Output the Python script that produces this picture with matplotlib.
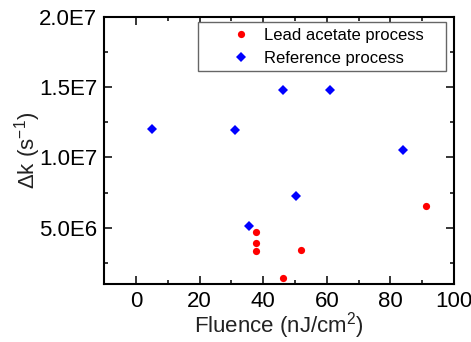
import matplotlib
matplotlib.use('Agg')
from matplotlib import pyplot as plt
from matplotlib.ticker import MultipleLocator, FuncFormatter

# data
lead_x = [37.8, 37.8, 37.8, 51.8, 46.3, 91.1]
lead_y = [4.67e6, 3.91e6, 3.36e6, 3.39e6, 1.44e6, 6.52e6]

ref_x = [5.1, 31.0, 46.1, 60.9, 84.0, 50.3, 35.6]
ref_y = [1.206e7, 1.199e7, 1.484e7, 1.479e7, 1.052e7, 7.25e6, 5.14e6]

x_ticks = [0, 20, 40, 60, 80, 100]
y_ticks = [5.0e6, 1.0e7, 1.5e7, 2.0e7]

plt.rcParams['font.family'] = ['Liberation Sans', 'DejaVu Sans']
plt.rcParams['mathtext.fontset'] = 'custom'
plt.rcParams['mathtext.rm'] = 'Liberation Sans'
plt.rcParams['mathtext.default'] = 'regular'

fig = plt.figure(figsize=(4.71, 3.42), dpi=100)
ax = fig.add_axes([0.221, 0.170, 0.743, 0.780])

ax.plot(lead_x, lead_y, 'o', color='#ff0000', markersize=5.2, markeredgewidth=0,
        label='Lead acetate process')
ax.plot(ref_x, ref_y, 'D', color='#0000ff', markersize=4.8, markeredgewidth=0,
        label='Reference process')

ax.set_xlim(-10, 100)
ax.set_ylim(1.0e6, 2.0e7)
ax.set_xticks(x_ticks)
ax.set_yticks(y_ticks)
ax.xaxis.set_minor_locator(MultipleLocator(10))
ax.yaxis.set_minor_locator(MultipleLocator(2.5e6))


def sci_fmt(v, pos):
    exp = len(str(int(v))) - 1
    return '%.1fE%d' % (v / 10 ** exp, exp)


ax.yaxis.set_major_formatter(FuncFormatter(sci_fmt))

ax.tick_params(which='both', direction='in', top=True, right=True,
               labelsize=16, colors='black', width=1.1)
ax.tick_params(which='major', length=6, pad=5)
ax.tick_params(which='minor', length=3)
for sp in ax.spines.values():
    sp.set_linewidth(1.5)

ax.set_xlabel('Fluence (nJ/cm$^{2}$)', fontsize=16, color='#222222', labelpad=-1)
ax.set_ylabel('Δk (s$^{-1}$)', fontsize=16, color='#222222', labelpad=-3)

leg = ax.legend(loc='upper left', bbox_to_anchor=(0.269, 0.798, 0.708, 0.183),
                mode='expand', fontsize=12, numpoints=1, handlelength=4.4,
                handletextpad=-0.8, labelspacing=0.45, borderpad=0.35,
                fancybox=False, framealpha=1, borderaxespad=0)
leg.get_frame().set_edgecolor('#666666')
leg.get_frame().set_linewidth(1.0)

fig.savefig('out.png', dpi=100)
